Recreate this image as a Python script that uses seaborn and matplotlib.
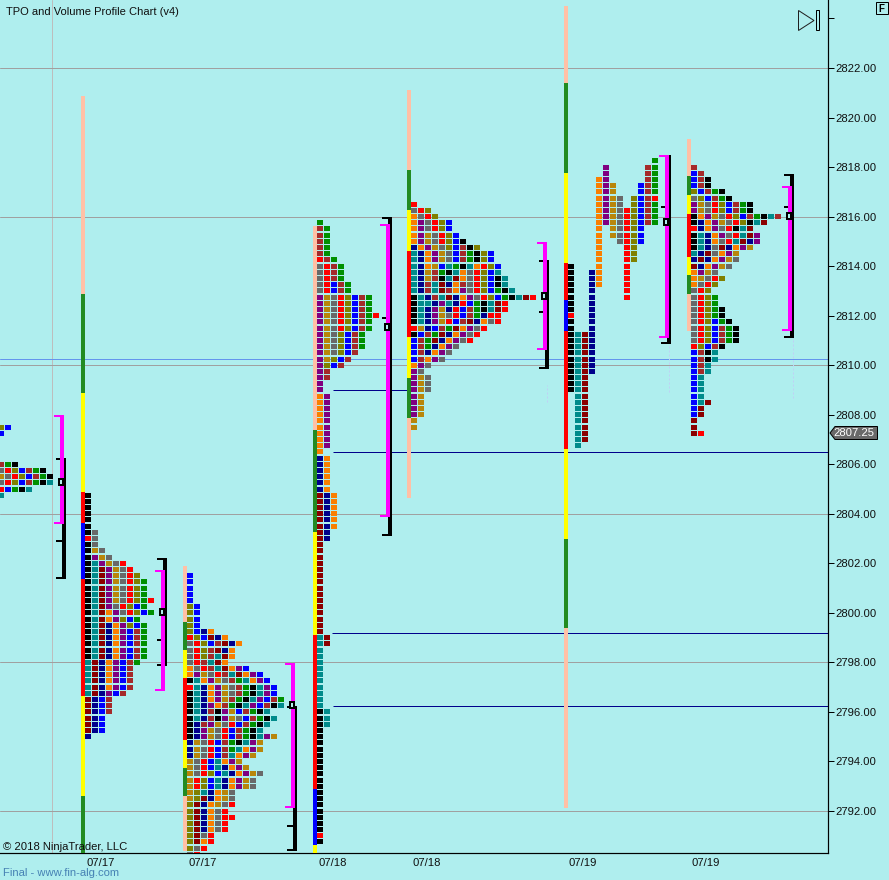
import matplotlib
matplotlib.use("Agg")
import matplotlib.pyplot as plt
import pandas as pd
import seaborn as sns
from matplotlib.markers import MarkerStyle
from matplotlib.path import Path
from matplotlib.patches import Polygon, Rectangle

# letter -> block colour
letter_colors = {
    "K": "#000000", "T": "#008B8B", "M": "#8B0000", "N": "#00008B",
    "O": "#F97F00", "P": "#800080", "D": "#B8860B", "G": "#696969",
    "R": "#FF0000", "L": "#808000", "B": "#0000FF", "W": "#A52A2A",
    "E": "#009000",
}
bar_colors = {"p": "#FFC0A6", "g": "#228B22", "y": "#FFFF00", "r": "#FF0000", "b": "#0000FF"}

# profile rows, top row first, each row one tick (0.25) lower, "." = empty column
rows_0a = ["LB", "B"]
top_0a = 2807.5
rows_0b = ["WEK", "GRLBWEK", "DGRLBWEK", "GRLBWEKT", "RBEKT", "T"]
top_0b = 2806.0

rows_1 = ["K", "K", "K", "K", "K", "K", "KG", "RG", "KG", "KDG", "KPDG", "KTPDGR", "KTMPDGR",
          "KTMPDGRL", "KTMPDGRLE", "KTMPDGRLE", "KTMPDGRLE", "KTMPDGRLER", "KTMPGRLBE",
          "KTMOPGRLBE", "KTMOPLBE", "KTMNOPLBE", "KTMNOPBWE", "KTMNOPBWE", "KTMNOPBWE",
          "KTMNOPBWE", "KTMNOPBWE", "TMNOPBWE", "TMNOPBW", "TMNOPBW", "TMNOPBW", "TMNOPBW",
          "TMNPBW", "MNBW", "MNBW", "MNBW", "MNB", "MNB", "MNB", "N"]
top_1 = 2804.75

rows_2 = ["B", "B", "B", "B", "B", "LB", "LB", "LB", "LB", "LBNO", "RLBMNO", "GRLBWMNO", "GRLWMNO",
          "GRLWTMO", "GRWTMO", "OGRWTMOPB", "OPDGRWTMOPB", "KTOPDGWETOPB", "RTNOPDGWEKTPB",
          "KTNOPDGWEKTPB", "KTNOPDWEKTPBWE", "KTNPOWEKTPBWKT", "KTNWKPDBWEKT", "KTNWKPDGBWEKT",
          "KNWPDGRBWEKT", "KNPDGRBWEKT", "KNPDGRBWEKTPD", "NDGRBWEKTPD", "NDGRBWETOPD",
          "NDGRBWTOPD", "DGRBTOPD", "DGRBTNOPD", "DGRLBTNOPDG", "DRLBTNOPDG", "DRLBTNOPDG",
          "DLTNODG", "DLMNODG", "LMNODGR", "LMNOGR", "LMNOGRR", "LMNOGR", "LMNOGR", "LMGR",
          "LMOR", "LGR", "GR"]
top_2 = 2801.5

rows_3 = ["E", "WE", "WE", "WE", "WE", "WE", "RWE", "GRWE", "GRWE", "GRWE", "GRBWE", "GRBWE",
          "PDGRLBWE", "PDGRLBWE", "PDGRLBWE", "PDGRLBWER", "PDGRLBWE", "PDGRLBWE", "PDGLBWE",
          "PDGLBWE", "PDGLBWE", "PDGLBW", "PDLBW", "PLBW", "PW", "PW", "P", "P",
          "OP", "OP", "OP", "OP", "OP", "OP", "OP", "OP", "OP", "O",
          "NO", "NO", "NO", "NO", "NO", "NO", "MNO", "MNO", "MNO", "MNO", "MNO", "MNO", "MN", "MN",
          "M", "M", "M", "M", "M", "M", "M", "M", "M", "M", "M", "M", "M", "M", "M", "TM", "TM",
          "T", "T", "T", "T", "T", "T", "T", "T", "T", "T", "KT", "KT", "KT",
          "K", "K", "K", "K", "K", "K", "K", "K", "K", "K", "K", "K", "K", "K", "K", "K", "K", "R", "K"]
top_3 = 2815.75

rows_4 = ["R", "GRL", "OGRL", "OPGRLB", "OPGRLB", "OPDGRLB", "OPDGRLBK", "NOPDGLBWKL",
          "TNOPDGBWEKLB", "TNOPDGBWEKLB", "TNODBTEKTORLB", "TNDWEKTOGRLBT", "TNDWKTMOGRLBKT",
          "TNWTMNOWGRLBKT", "TNWTMWOPGRLBEKT", "KTNWTMNOPGRLBEKTMR", "KTTNPTNRBEKTMR",
          "KTNPDNRBWEKTMR", "KTNPDGRBWENRR", "KTNPDRBWMNOGR", "RDNBWEMOPGR", "KBWEMNOPGR",
          "BWEMNOPGR", "BWENOPG", "BWNOPG", "BWOPG", "OPG", "PG", "PDG", "PDG", "PDG",
          "PD", "PD", "PD", "PD", "D", "D"]
top_4 = 2816.5

rows_5 = ["............E", ".....P.....WE", ".....P.....WE", "....OP.....WE", "....OPD...BWE",
          "....OPD...BWE", "....OPDG.LBWR", "....OPDG.LBWE", "....OPDGRLBWE", "....OPDGRLBWE",
          "....OPDGRLBWE", "....O.DGRLB", "....O.DGRLB", "....O..GRLB", "....O...RL",
          "....O...RL", "....O...RL", "K...O...R", "K..NO...R", "K..NO...R", "K..NO...R",
          "K..N....R", "K..N....R", "K..N", "K..N", "R..N", "K..N", "K..N",
          "KTMN", "KTMN", "KTMN", "KTMN", "KTMN", "KTMN", "KTMN", "KTM", "KTM", "KTM",
          ".TM", ".TM", ".TM", ".TM", ".TM", ".TM", ".TM", ".TM", ".T"]
top_5 = 2818.25

rows_6 = ["W", "BW", "BWK", "BWK", "LBWEK", "GLBWEK", "PDGRLBWEK", "PDGRLBWEK", "KOPDGRLBWEKTW",
          "KNOPDGRLKTM", "RNOPGRKTM", "KTNOPGRTMP", "KTNOGRTMNP", "KTNGMNOPD", "TNMGOPD",
          "NMNOPDG", "MNOPDG", "OPDG", "ODGRL", "OGRL", "GRL", "GRLE", "GRLE", "GRLEK", "GRLEK",
          "GRLBEK", "GRLBWEK", "GRLBWEK", "GRLBWEK", "RLBWK", "BWKT", "BWKT", "BWT", "BWT",
          "BT", "BT", "BT", "BT", "BTM", "BM", "BM", "M", "M", "MR"]
top_6 = 2818.0

# session bars: colour letters and the prices where colours change
bar_1 = "pgyrbryg"
bar_1_levels = [2820.875, 2812.875, 2808.875, 2804.875, 2803.625, 2801.375, 2796.625, 2792.625, 2790.25]
bar_2 = "pgyrygp"
bar_2_levels = [2801.875, 2799.625, 2798.5, 2797.375, 2794.875, 2793.75, 2792.625, 2790.375]
bar_3 = "pgyrby"
bar_3_levels = [2815.625, 2807.375, 2803.25, 2799.125, 2792.875, 2790.625, 2790.25]
bar_4 = "pgyrygp"
bar_4_levels = [2821.125, 2817.875, 2816.25, 2814.625, 2811.125, 2809.5, 2807.875, 2804.625]
bar_5 = "pgyrbrygp"
bar_5_levels = [2824.5, 2821.375, 2817.75, 2814.125, 2812.625, 2811.375, 2806.625, 2803.0, 2799.375, 2792.125]
bar_6 = "pgyrygp"
bar_6_levels = [2819.125, 2817.625, 2816.875, 2816.125, 2814.375, 2813.625, 2812.875, 2811.375]

# value area high/low, session high/mid/low, point of control
va_high = [2807.95, 2801.68, 2797.94, 2815.67, 2814.94, 2818.45, 2817.18]
va_low = [2803.64, 2796.89, 2792.18, 2803.91, 2810.66, 2811.15, 2811.42]
range_high = [2806.21, 2802.18, 2796.19, 2815.93, 2814.21, 2818.45, 2817.68]
range_mid = [2802.92, 2798.92, 2791.40, 2811.92, 2812.15, 2816.40, 2816.40]
range_low = [2801.41, 2797.90, 2790.43, 2803.15, 2809.89, 2810.90, 2811.15]
poc = [2805.29, 2800.04, 2796.28, 2811.54, 2812.78, 2815.78, 2816.03]

grid_prices = [2822, 2816, 2810, 2804, 2798, 2792]
price_ticks = [2792, 2794, 2796, 2798, 2800, 2802, 2804, 2806, 2808, 2810, 2812, 2814, 2816, 2818, 2820, 2822]
date_labels = ["07/17", "07/17", "07/18", "07/18", "07/19", "07/19"]
last_price = 2807.25
level_blue = 2810.27
naked_levels = [2809.0, 2806.48, 2799.2, 2796.22]

# layout, all in pixels of the 889x880 picture
PX_PER_POINT = 24.767
COL_W = 7
profile_left = {"0a": -2, "0b": -2, "1": 85, "2": 187, "3": 317, "4": 411, "5": 568, "6": 691}
bar_x = [83, 185, 315, 409, 566, 689]
va_x = [62, 163, 293, 388, 545, 667, 790]
range_x = [64, 165, 295, 390, 547, 669, 792]
date_x = [100.5, 203, 332.5, 426.5, 583, 706]
naked_start = [333, 333, 332, 333]
naked_end = [410, 828, 828, 828]
PT = 0.72  # one pixel in points at dpi 100


def profile_frame(rows, top, left):
    """Turns the letter rows of one profile into block records."""
    records = []
    for i, row in enumerate(rows):
        for col, code in enumerate(row):
            if code != ".":
                records.append({"x": left + COL_W * col + 3, "price": top - 0.25 * i, "code": code})
    return records


def draw_bar(ax, x, codes, levels):
    for i, code in enumerate(codes):
        ax.vlines(x, levels[i + 1], levels[i], color=bar_colors[code], lw=4 * PT,
                  capstyle="butt", zorder=4, antialiased=False)


def draw_bracket(ax, x, high, low, color, marks, lw=4):
    ax.vlines(x, low, high, color=color, lw=lw * PT, capstyle="butt", zorder=5, antialiased=False)
    for m in marks:
        ax.hlines(m, x - 8, x + 2, color=color, lw=2 * PT, capstyle="butt", zorder=5, antialiased=False)


sns.set_theme(style="white")
plt.rcParams["font.family"] = ["Liberation Sans", "DejaVu Sans"]
BG = "#AFEEEE"

fig = plt.figure(figsize=(8.89, 8.80), dpi=100, facecolor=BG)
ax = fig.add_axes([0, 1 - 853 / 880, 828 / 889, 853 / 880], facecolor=BG)
ax.set_xlim(0, 828)
ax.set_ylim(2822 - 785 / PX_PER_POINT, 2822 + 68 / PX_PER_POINT)

records = []
records += profile_frame(rows_0a, top_0a, profile_left["0a"])
records += profile_frame(rows_0b, top_0b, profile_left["0b"])
records += profile_frame(rows_1, top_1, profile_left["1"])
records += profile_frame(rows_2, top_2, profile_left["2"])
records += profile_frame(rows_3, top_3, profile_left["3"])
records += profile_frame(rows_4, top_4, profile_left["4"])
records += profile_frame(rows_5, top_5, profile_left["5"])
records += profile_frame(rows_6, top_6, profile_left["6"])
blocks = pd.DataFrame(records)

block_marker = MarkerStyle(Path([(-3, -2.5), (3, -2.5), (3, 2.5), (-3, 2.5), (-3, -2.5)], closed=True))
sns.scatterplot(data=blocks, x="x", y="price", hue="code", palette=letter_colors,
                marker=block_marker, s=(6 * PT) ** 2, edgecolor="none", linewidth=0,
                legend=False, ax=ax, zorder=3, antialiased=False)

# background lines
ax.axvline(51.5, color="#BDBDBD", lw=PT, zorder=1)
for g in grid_prices:
    ax.axhline(g, color="#A0A0A0", lw=PT, zorder=1)
ax.axhline(level_blue, color="#6495ED", lw=PT, zorder=1)
for lvl, x0, x1 in zip(naked_levels, naked_start, naked_end):
    ax.hlines(lvl, x0, x1, color="#00008B", lw=PT, zorder=2)

# faint dashes below the brackets
ax.vlines([669, 793, 547], [2808.92, 2808.68, 2808.5], [2810.86, 2811.14, 2809.2],
          color="#BFD0F5", lw=PT, linestyles=(0, (2, 2)), zorder=2)

# session bars
for x, codes, levels in zip(bar_x, [bar_1, bar_2, bar_3, bar_4, bar_5, bar_6],
                            [bar_1_levels, bar_2_levels, bar_3_levels, bar_4_levels, bar_5_levels, bar_6_levels]):
    draw_bar(ax, x, codes, levels)

# range and value area brackets with the POC box
for i in range(len(poc)):
    draw_bracket(ax, range_x[i], range_high[i], range_low[i], "black",
                 [range_high[i], range_mid[i], range_low[i]])
    draw_bracket(ax, va_x[i], va_high[i], va_low[i], "#FF00FF", [va_high[i], va_low[i]])
    ax.add_patch(Rectangle((range_x[i] - 5, poc[i] - 3 / PX_PER_POINT), 4, 6 / PX_PER_POINT,
                           facecolor=BG, edgecolor="black", lw=2 * PT, zorder=6))

# axes
sns.despine(ax=ax, left=True, top=True, right=False, bottom=False)
ax.spines["right"].set_color("black")
ax.spines["bottom"].set_color("black")
ax.spines["right"].set_linewidth(PT * 1.2)
ax.spines["bottom"].set_linewidth(PT * 1.2)
ax.yaxis.tick_right()
ax.set_yticks(price_ticks + [2824])
ax.set_yticklabels([f"{v:.2f}" for v in price_ticks] + [""])
ax.tick_params(axis="y", length=6 * PT, width=PT, color="black", pad=1, labelsize=8.1, labelcolor="#101010")
ax.set_xticks(date_x)
ax.set_xticklabels(date_labels)
ax.tick_params(axis="x", length=0, pad=3.5, labelsize=8.1, labelcolor="#101010")
ax.set_xlabel("")
ax.set_ylabel("")

# texts
fig.text(6 / 889, 1 - 12 / 880, "TPO and Volume Profile Chart (v4)", fontsize=8, va="center", color="#101010")
fig.text(3 / 889, 1 - 847 / 880, "\u00a9 2018 NinjaTrader, LLC", fontsize=8.1, va="center", color="#101010", zorder=10)
fig.text(3 / 889, 1 - 873 / 880, "Final - www.fin-alg.com", fontsize=8.1, va="center", color="#4682B4")

# last price tag, play icon and F box, drawn in picture pixels
overlay = fig.add_axes([0, 0, 1, 1], facecolor="none")
overlay.set_xlim(0, 889)
overlay.set_ylim(880, 0)
overlay.axis("off")
overlay.add_patch(Polygon([(830, 433), (835, 426.5), (877.5, 426.5), (877.5, 439.5), (835, 439.5)],
                          closed=True, facecolor="#696969", edgecolor="black", lw=PT))
overlay.text(854, 433, f"{last_price:.2f}", color="white", fontsize=8.1, ha="center", va="center")
overlay.add_patch(Polygon([(798.5, 10.5), (814, 20.5), (798.5, 30.5)], closed=True,
                          facecolor="none", edgecolor="#202020", lw=PT))
overlay.add_patch(Rectangle((815.5, 10.5), 3, 20, facecolor="none", edgecolor="black", lw=PT))
overlay.add_patch(Rectangle((875.5, 2.5), 12.5, 12, facecolor="none", edgecolor="black", lw=PT))
overlay.text(881.8, 8.8, "F", fontsize=7, fontweight="bold", ha="center", va="center", color="black")

fig.savefig("out.png", dpi=100, facecolor=BG)
